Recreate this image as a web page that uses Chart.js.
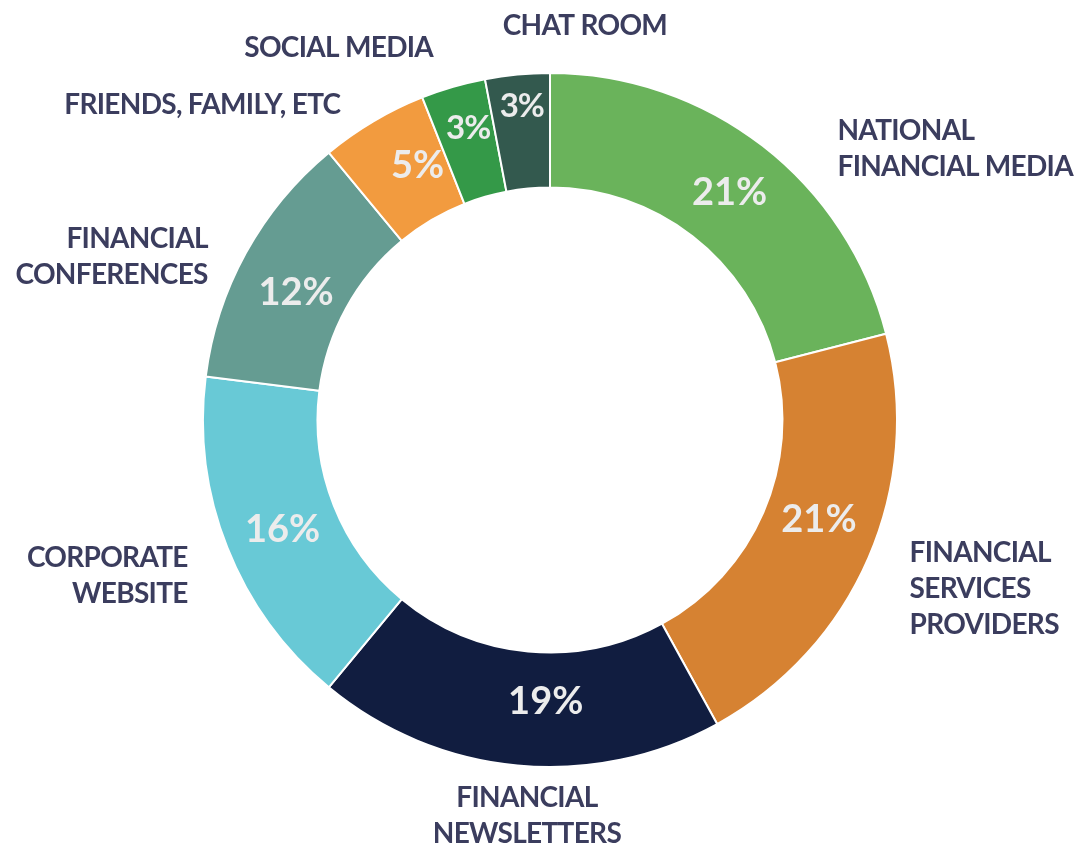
<!DOCTYPE html>
<html lang="en">
<head>
  <meta charset="UTF-8" />
  <title>Information sources</title>
  <style>
    html, body { margin: 0; padding: 0; background: #fff; }
    #chart-container { width: 1086px; height: 855px; position: relative; }
  </style>
  <script src="https://cdn.jsdelivr.net/npm/chart.js"></script>
</head>
<body>
  <div id="chart-container"><canvas id="sourceChart"></canvas></div>

  <script>
    // data (percent)
    const categories = [
      ['NATIONAL', 'FINANCIAL MEDIA'],
      ['FINANCIAL', 'SERVICES', 'PROVIDERS'],
      ['FINANCIAL', 'NEWSLETTERS'],
      ['CORPORATE', 'WEBSITE'],
      ['FINANCIAL', 'CONFERENCES'],
      ['FRIENDS, FAMILY, ETC'],
      ['SOCIAL MEDIA'],
      ['CHAT ROOM'],
    ];
    const shares = [21, 21, 19, 16, 12, 5, 3, 3];
    const sliceColors = ['#6ab35b', '#d68232', '#111d40', '#68c9d6', '#659c92', '#f29b3f', '#349948', '#33594e'];

    // nudges so labels sit where the original put them
    const labelShift = [[46, 40], [-2, 12], [14, 4], [4, 11], [3, 27], [-9, 24], [-7, 6], [72, -2]];
    const valueShift = [[2, 2], [3, -15], [23, -7], [2, 3], [0, 12], [15, -5], [-1, -13], [-1, -25]];

    const labelPlugin = {
      id: 'sliceLabels',
      afterDatasetsDraw(chart) {
        const ctx = chart.ctx;
        const meta = chart.getDatasetMeta(0);
        ctx.save();
        meta.data.forEach((arc, i) => {
          const p = arc.getProps(['x', 'y', 'startAngle', 'endAngle', 'outerRadius'], true);
          // value inside the ring
          const c = arc.tooltipPosition(true);
          const small = shares[i] < 4;
          ctx.font = small ? 'bold 33px Lato' : 'bold 38px Lato';
          ctx.letterSpacing = small ? '-1px' : '0px';
          ctx.fillStyle = '#ececec';
          ctx.textAlign = 'center';
          ctx.textBaseline = 'middle';
          ctx.fillText(shares[i] + '%', c.x + valueShift[i][0], c.y + valueShift[i][1]);

          // category outside the ring
          const mid = (p.startAngle + p.endAngle) / 2;
          const r = p.outerRadius + 47;
          const cos = Math.cos(mid);
          const x = p.x + cos * r + labelShift[i][0];
          const y = p.y + Math.sin(mid) * r + labelShift[i][1];
          ctx.font = 'bold 28px Lato';
          ctx.letterSpacing = '-0.7px';
          ctx.fillStyle = '#3b3d5e';
          ctx.textAlign = cos > 0.2 ? 'left' : (cos < -0.2 ? 'right' : 'center');
          const lines = categories[i];
          const lh = 36;
          lines.forEach((t, k) => {
            ctx.fillText(t, x, y + (k - (lines.length - 1) / 2) * lh);
          });
          ctx.letterSpacing = '0px';
        });
        ctx.restore();
      }
    };

    new Chart(document.getElementById('sourceChart'), {
      type: 'doughnut',
      data: {
        labels: categories.map(l => l.join(' ')),
        datasets: [{
          data: shares,
          backgroundColor: sliceColors,
          borderColor: '#ffffff',
          borderWidth: 2,
        }],
      },
      options: {
        responsive: true,
        maintainAspectRatio: false,
        animation: false,
        cutout: '67%',
        layout: { padding: { left: 202, right: 188, top: 72, bottom: 87 } },
        plugins: {
          legend: { display: false },
          tooltip: { enabled: false },
        },
      },
      plugins: [labelPlugin],
    });
  </script>
</body>
</html>
